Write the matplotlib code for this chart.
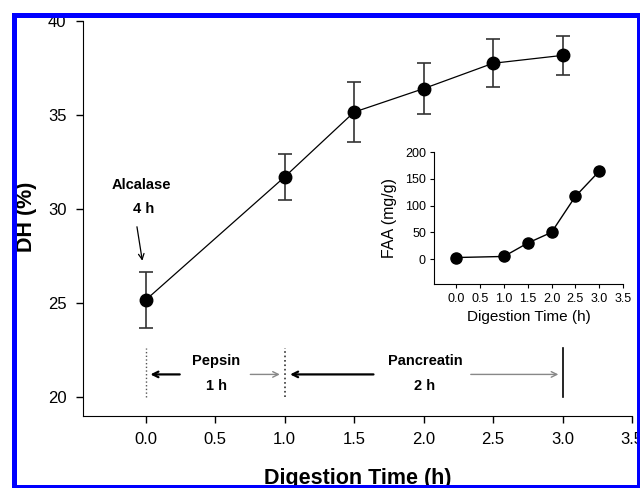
import matplotlib
matplotlib.use("Agg")
import matplotlib.pyplot as plt
from matplotlib.patches import Rectangle

plt.rcParams['font.family'] = ['Liberation Sans', 'DejaVu Sans']

# main panel: degree of hydrolysis
time_h = [0.0, 1.0, 1.5, 2.0, 2.5, 3.0]
dh = [25.15, 31.7, 35.15, 36.4, 37.75, 38.17]
dh_err = [1.5, 1.23, 1.6, 1.35, 1.27, 1.02]

# inset: free amino acids
faa_time = [0.0, 1.0, 1.5, 2.0, 2.5, 3.0]
faa = [3, 5, 30, 50, 117, 164]

fig = plt.figure(figsize=(6.4, 4.88), dpi=100)
ax = fig.add_axes([0.1297, 0.148, 0.8578, 0.809])

ax.errorbar(time_h, dh, yerr=dh_err, color='black', ecolor='#333333', elinewidth=1.2,
            capsize=5, capthick=1.2, marker='o', markersize=9, linewidth=0.9)
ax.set_xlim(-0.45, 3.5)
ax.set_ylim(19, 40)
ax.set_xticks([0, 0.5, 1.0, 1.5, 2.0, 2.5, 3.0, 3.5])
ax.set_xticklabels(['0.0', '0.5', '1.0', '1.5', '2.0', '2.5', '3.0', '3.5'])
ax.set_yticks([20, 25, 30, 35, 40])
ax.spines['top'].set_visible(False)
ax.spines['right'].set_visible(False)
ax.tick_params(direction='out', length=5, width=1, labelsize=12, pad=7)
ax.set_xlabel('Digestion Time (h)', fontsize=15.5, fontweight='bold')
ax.xaxis.set_label_coords(0.5, -0.133)
ax.set_ylabel('DH (%)', fontsize=15.5, fontweight='bold')
ax.yaxis.set_label_coords(-0.084, 0.505)

# enzyme phases
ax.text(-0.03, 31.3, 'Alcalase', ha='center', va='center', fontsize=10.5, fontweight='bold')
ax.text(-0.015, 30.0, '4 h', ha='center', va='center', fontsize=10.5, fontweight='bold')
ax.annotate('', xy=(-0.02, 27.1), xytext=(-0.065, 29.2),
            arrowprops=dict(arrowstyle='->', color='black', lw=0.9))

ax.plot([0, 0], [20, 22.6], color='#555555', lw=1, linestyle=':')
ax.plot([1, 1], [20, 22.6], color='#333333', lw=1.2, linestyle=':')
ax.plot([3, 3], [20, 22.6], color='black', lw=1.2)

ax.annotate('', xy=(0.015, 21.2), xytext=(0.266, 21.2),
            arrowprops=dict(arrowstyle='->', color='black', lw=1.6))
ax.annotate('', xy=(0.986, 21.2), xytext=(0.734, 21.2),
            arrowprops=dict(arrowstyle='->', color='#888888', lw=1))
ax.annotate('', xy=(1.02, 21.2), xytext=(1.66, 21.2),
            arrowprops=dict(arrowstyle='->', color='black', lw=1.6))
ax.annotate('', xy=(2.99, 21.2), xytext=(2.32, 21.2),
            arrowprops=dict(arrowstyle='->', color='#888888', lw=1))

ax.text(0.51, 21.9, 'Pepsin', ha='center', va='center', fontsize=10.5, fontweight='bold')
ax.text(0.51, 20.6, '1 h', ha='center', va='center', fontsize=10.5, fontweight='bold')
ax.text(2.01, 21.9, 'Pancreatin', ha='center', va='center', fontsize=10.5, fontweight='bold')
ax.text(2.01, 20.6, '2 h', ha='center', va='center', fontsize=10.5, fontweight='bold')

# inset
ins = fig.add_axes([0.6786, 0.4174, 0.2948, 0.2711])
ins.plot(faa_time, faa, color='black', marker='o', markersize=8, linewidth=1)
ins.set_xlim(-0.46, 3.5)
ins.set_ylim(-47, 200)
ins.set_xticks([0, 0.5, 1.0, 1.5, 2.0, 2.5, 3.0, 3.5])
ins.set_xticklabels(['0.0', '0.5', '1.0', '1.5', '2.0', '2.5', '3.0', '3.5'])
ins.set_yticks([0, 50, 100, 150, 200])
ins.spines['top'].set_visible(False)
ins.spines['right'].set_visible(False)
ins.tick_params(direction='out', length=3, width=0.8, labelsize=9, pad=3)
ins.set_xlabel('Digestion Time (h)', fontsize=11, labelpad=4)
ins.set_ylabel('FAA (mg/g)', fontsize=11.5, labelpad=6)

# blue frame, cropped at the edges
W, H = 640.0, 488.0
white = dict(facecolor='white', edgecolor='none', zorder=20, transform=fig.transFigure)
blue = dict(facecolor='#0000ff', edgecolor='none', zorder=21, transform=fig.transFigure)
fig.add_artist(Rectangle((0, 0), 12 / W, 1, **white))
fig.add_artist(Rectangle((0, 1 - 13 / H), 1, 13 / H, **white))
fig.add_artist(Rectangle((12 / W, 0), 5 / W, 1 - 13 / H, **blue))
fig.add_artist(Rectangle((12 / W, 1 - 18 / H), 1 - 12 / W, 5 / H, **blue))
fig.add_artist(Rectangle((637 / W, 0), 3 / W, 1 - 13 / H, **blue))
fig.add_artist(Rectangle((12 / W, 0), 1 - 12 / W, 3 / H, **blue))

fig.savefig('out.png', dpi=100)
